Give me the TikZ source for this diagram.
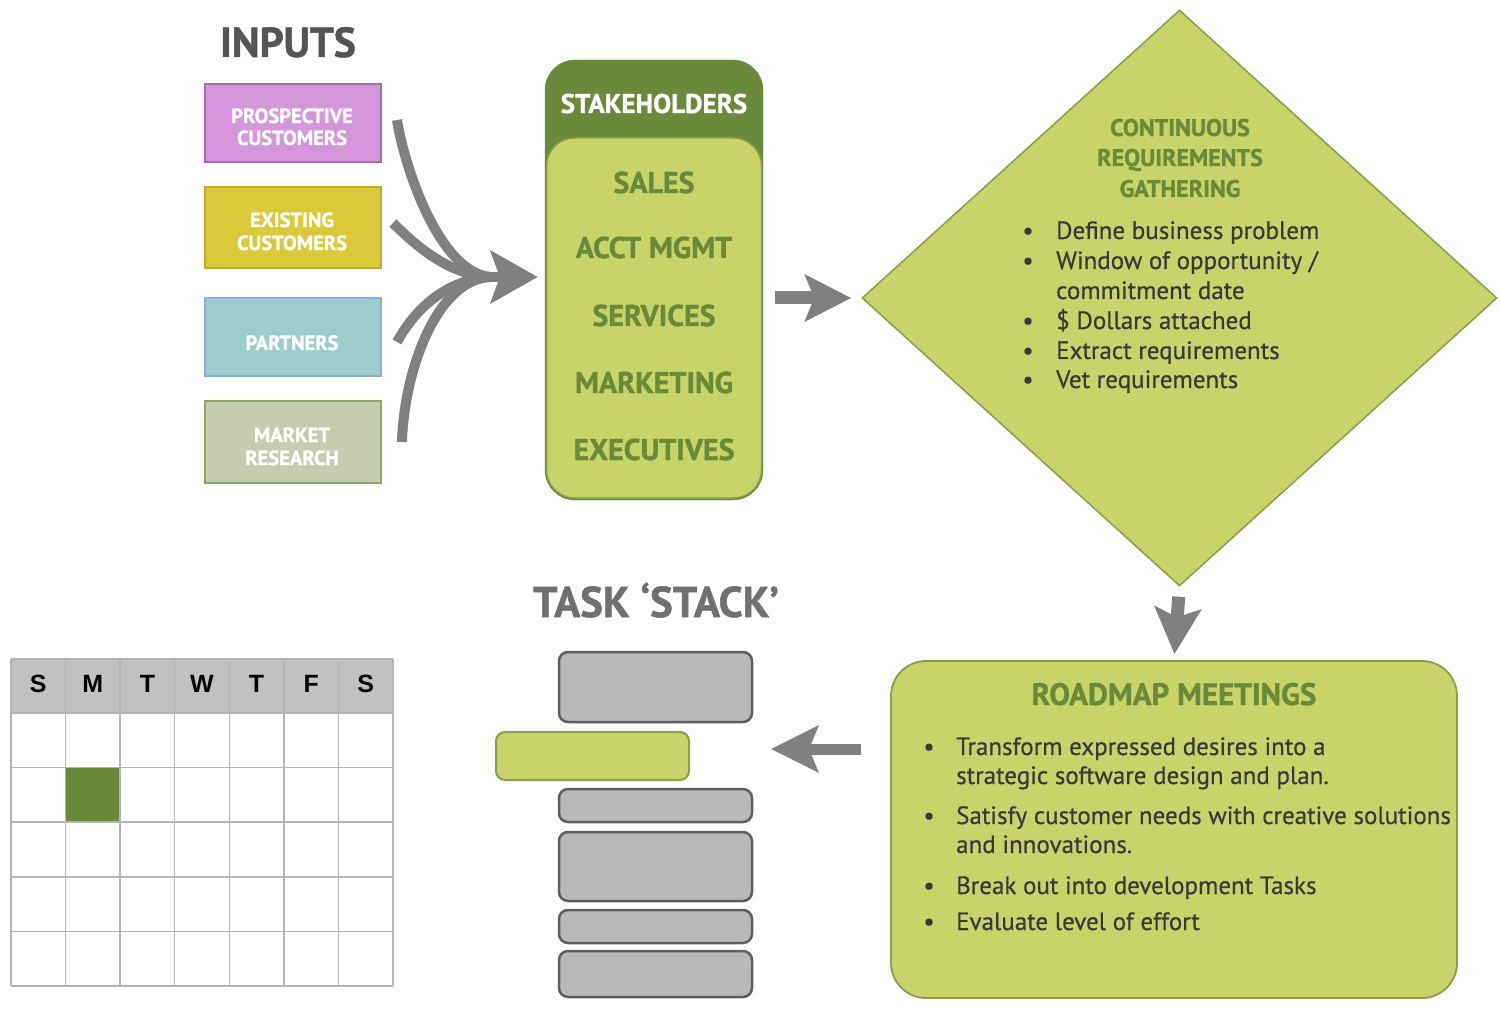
\documentclass[tikz,border=0pt]{standalone}
\usepackage{fontspec}
\setmainfont{PT Sans}[BoldFeatures={FakeBold=1.2}]
\newfontfamily\bodyfont{PT Sans}[FakeBold=0.5]
\newfontfamily\calfont{Liberation Sans}
\usetikzlibrary{arrows.meta,shapes.geometric}
\definecolor{dkgreen}{HTML}{6A8A3A}
\definecolor{ltgreen}{HTML}{C8D46A}
\definecolor{edgegreen}{HTML}{86A04A}
\definecolor{arrowgray}{HTML}{808080}
\definecolor{titlegray}{HTML}{555555}
\definecolor{stackgray}{HTML}{707070}
\definecolor{bodytext}{HTML}{383838}
\definecolor{pinkfill}{HTML}{D696DC}
\definecolor{pinkedge}{HTML}{A46AAC}
\definecolor{yelfill}{HTML}{DCC93A}
\definecolor{yeledge}{HTML}{C2AA2E}
\definecolor{tealfill}{HTML}{9CCCCC}
\definecolor{tealedge}{HTML}{86AEDE}
\definecolor{sagefill}{HTML}{C5CCB0}
\definecolor{sageedge}{HTML}{8CA862}
\definecolor{barfill}{HTML}{B9B9B9}
\definecolor{baredge}{HTML}{5E5E5E}
\definecolor{calhead}{HTML}{C0C2C2}
\definecolor{calline}{HTML}{B4B4B4}
\newcommand\myfs[1]{\fontsize{#1}{#1}\selectfont}
\begin{document}
\begin{tikzpicture}[x=1pt,y=-1pt,
  txt/.style={inner sep=0pt, anchor=base},
  inbox/.style={draw, line width=2pt, minimum width=176pt, inner sep=0pt},
  inlabel/.style={txt, text=white, font=\myfs{20.5}\bfseries},
  stakeitem/.style={txt, text=dkgreen, font=\myfs{30}\bfseries},
  bullettxt/.style={inner sep=0pt, anchor=base west, text=bodytext, font=\bodyfont\myfs{25}},
  bulletdot/.style={inner sep=0pt, anchor=base, text=bodytext, font=\bodyfont\myfs{25}},
  bararrow/.style={draw=arrowgray, line width=13pt, -{Stealth[length=46pt,width=46pt,inset=9pt]}},
  curvearrow/.style={draw=arrowgray, line width=10pt},
  stackbar/.style={draw=baredge, fill=barfill, line width=2.5pt, rounded corners=9pt, minimum width=193pt, inner sep=0pt},
]
\path[use as bounding box] (0,0) rectangle (1500,1016);

% ---------- INPUTS ----------
\node[txt, text=titlegray, font=\myfs{42}\bfseries] (inputs) at (288,57) {INPUTS};
\node[inbox, fill=pinkfill, draw=pinkedge, minimum height=78pt] (inpros) at (293,123) {};
\node[inbox, fill=yelfill, draw=yeledge, minimum height=81pt] (inexist) at (293,227.5) {};
\node[inbox, fill=tealfill, draw=tealedge, minimum height=78pt] (inpart) at (293,337) {};
\node[inbox, fill=sagefill, draw=sageedge, minimum height=82pt] (inmkt) at (293,442) {};
\node[inlabel] (lp1) at (292,123) {PROSPECTIVE};
\node[inlabel] (lp2) at (292,145) {CUSTOMERS};
\node[inlabel] (le1) at (292,227) {EXISTING};
\node[inlabel] (le2) at (292,250) {CUSTOMERS};
\node[inlabel] (lpa) at (292,350) {PARTNERS};
\node[inlabel] (lm1) at (292,442) {MARKET};
\node[inlabel] (lm2) at (292,465) {RESEARCH};

% ---------- STAKEHOLDERS ----------
\node[fill=dkgreen, draw=dkgreen, rounded corners=30pt, minimum width=218pt, minimum height=440pt, inner sep=0pt] (stake) at (654,280) {};
\node[fill=ltgreen, draw=edgegreen, line width=1.5pt, rounded corners=28pt, minimum width=215pt, minimum height=360pt, inner sep=0pt] (stakein) at (654,318) {};
\node[txt, text=white, font=\myfs{27}\bfseries] (sth) at (654,113) {STAKEHOLDERS};
\node[stakeitem] (s1) at (654,193) {SALES};
\node[stakeitem] (s2) at (654,258) {ACCT MGMT};
\node[stakeitem] (s3) at (654,326) {SERVICES};
\node[stakeitem] (s4) at (654,393) {MARKETING};
\node[stakeitem] (s5) at (654,460) {EXECUTIVES};

% ---------- merging curved arrows ----------
\coordinate (c1) at (397,120);
\coordinate (c2) at (393,223);
\coordinate (c3) at (397,342);
\coordinate (c4) at (402,442);
\coordinate (conv) at (490,277);
\draw[curvearrow] (c1) .. controls (405,170) and (440,272) .. (conv);
\draw[curvearrow] (c2) .. controls (425,255) and (455,275) .. (conv);
\draw[curvearrow] (c3) .. controls (420,300) and (455,279) .. (conv);
\draw[curvearrow] (c4) .. controls (404,372) and (436,280) .. (conv);
\draw[curvearrow, -{Stealth[length=47pt,width=52pt,inset=9pt]}, shorten >=7pt] (conv) -- (conv -| stake.west);

% ---------- DIAMOND ----------
\node[diamond, draw=edgegreen, fill=ltgreen, line width=1.5pt, minimum width=635pt, minimum height=576pt, inner sep=0pt] (diam) at (1179.5,298) {};
\node[txt, text=dkgreen, font=\myfs{24}\bfseries] (dt1) at (1180,136) {CONTINUOUS};
\node[txt, text=dkgreen, font=\myfs{24}\bfseries] (dt2) at (1180,166) {REQUIREMENTS};
\node[txt, text=dkgreen, font=\myfs{24}\bfseries] (dt3) at (1180,197) {GATHERING};
\node[bulletdot] (db1) at (1028,239) {\textbullet};
\node[bulletdot] (db2) at (1028,269) {\textbullet};
\node[bulletdot] (db3) at (1028,329) {\textbullet};
\node[bulletdot] (db4) at (1028,359) {\textbullet};
\node[bulletdot] (db5) at (1028,388) {\textbullet};
\node[bullettxt] (dl1) at (1056,239) {Define business problem};
\node[bullettxt] (dl2) at (1056,269) {Window of opportunity /};
\node[bullettxt] (dl3) at (1056,299) {commitment date};
\node[bullettxt] (dl4) at (1056,329) {\$ Dollars attached};
\node[bullettxt] (dl5) at (1056,359) {Extract requirements};
\node[bullettxt] (dl6) at (1056,388) {Vet requirements};

\draw[bararrow, shorten <=12pt, shorten >=10pt] (stake.east |- diam.west) -- (diam.west);

% ---------- ROADMAP ----------
\node[fill=ltgreen, draw=edgegreen, line width=1.8pt, rounded corners=35pt, minimum width=566pt, minimum height=337pt, inner sep=0pt] (road) at (1174,829.5) {};
\node[txt, text=dkgreen, font=\myfs{31}\bfseries] (rt) at (1174,705) {ROADMAP MEETINGS};
\node[bulletdot] (rb1) at (929,755) {\textbullet};
\node[bulletdot] (rb2) at (929,824) {\textbullet};
\node[bulletdot] (rb3) at (929,894) {\textbullet};
\node[bulletdot] (rb4) at (929,930) {\textbullet};
\node[bullettxt] (rl1) at (956,755) {Transform expressed desires into a};
\node[bullettxt] (rl2) at (956,784) {strategic software design and plan.};
\node[bullettxt] (rl3) at (956,824) {Satisfy customer needs with creative solutions};
\node[bullettxt] (rl4) at (956,853) {and innovations.};
\node[bullettxt] (rl5) at (956,894) {Break out into development Tasks};
\node[bullettxt] (rl6) at (956,930) {Evaluate level of effort};

\draw[bararrow, shorten <=10pt, shorten >=6pt] (diam.south) -- (road.north);

% ---------- TASK STACK ----------
\node[txt, text=stackgray, font=\myfs{43}\bfseries] (tstack) at (656,617) {TASK ‘STACK’};
\node[stackbar, minimum height=70pt] (b1) at (655.5,687) {};
\node[fill=ltgreen, draw=edgegreen, line width=2pt, rounded corners=9pt, minimum width=193pt, minimum height=48pt, inner sep=0pt] (bg) at (592.5,756) {};
\node[stackbar, minimum height=33pt] (b3) at (655.5,805.5) {};
\node[stackbar, minimum height=69pt] (b4) at (655.5,866.5) {};
\node[stackbar, minimum height=33pt] (b5) at (655.5,926.5) {};
\node[stackbar, minimum height=46pt] (b6) at (655.5,974) {};

\coordinate (lefttip) at (771,749);
\draw[draw=arrowgray, line width=11pt, -{Stealth[length=47pt,width=46pt,inset=9pt]}, shorten <=29pt] (road.west |- lefttip) -- (lefttip);

% ---------- CALENDAR ----------
\fill[calhead] (11,659) rectangle (393,713);
\fill[dkgreen] (65.57,767.6) rectangle (120.14,822.2);
\foreach \i in {0,...,7}
  \draw[calline, line width=1.5pt] ({11+\i*54.571},659) -- ({11+\i*54.571},986);
\foreach \yy in {659,713,767.6,822.2,876.8,931.4,986}
  \draw[calline, line width=1.5pt] (11,\yy) -- (393,\yy);
\foreach \l [count=\i] in {S,M,T,W,T,F,S}
  \node[txt, text=black, font=\calfont\myfs{25}\bfseries] (cal\i) at ({11+(\i-0.5)*54.571},692) {\l};
\end{tikzpicture}
\end{document}
